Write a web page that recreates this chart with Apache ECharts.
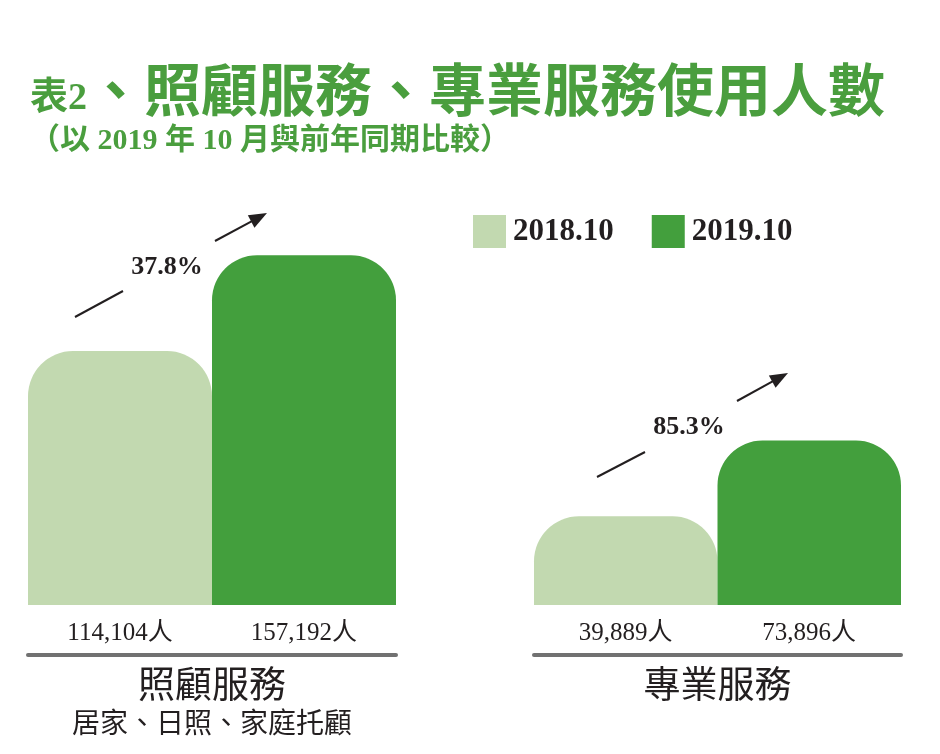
<!DOCTYPE html>
<html>
<head>
<meta charset="utf-8">
<title>表2、照顧服務、專業服務使用人數</title>
<script src="https://cdn.jsdelivr.net/npm/echarts@6/dist/echarts.min.js"></script>
<style>
  html, body { margin: 0; padding: 0; background: #fff; }
  #main { width: 940px; height: 754px; }
</style>
</head>
<body>
<div id="main"></div>
<script>
// data
const categories = ['照顧服務', '專業服務'];
const categoryNotes = ['居家、日照、家庭托顧', ''];
const seriesNames = ['2018.10', '2019.10'];
const values2018 = [114104, 39889];
const values2019 = [157192, 73896];

const GREEN = '#4a9e3e';
const INK = '#231f20';
const barColors = ['#c2d9b0', '#439f3d'];
const SERIF = '"Liberation Serif", "Noto Sans CJK TC", serif';

// annotation layout (pixels): lead line, arrow, label centre
const growthLayout = [
  { lead: [75, 317, 123, 291], arrow: [215, 241, 267, 213], text: [167, 267] },
  { lead: [597, 477, 645, 452], arrow: [737, 401, 788, 373], text: [689, 427] }
];

function fmt(n) {
  return String(n).replace(/\B(?=(\d{3})+(?!\d))/g, ',') + '人';
}

function arrowEls(x1, y1, x2, y2) {
  const dx = x2 - x1, dy = y2 - y1;
  const len = Math.hypot(dx, dy), ux = dx / len, uy = dy / len;
  const hl = 18, hw = 7;
  const bx = x2 - ux * hl, by = y2 - uy * hl;
  return [
    { type: 'line', silent: true,
      shape: { x1: x1, y1: y1, x2: bx + ux * 2, y2: by + uy * 2 },
      style: { stroke: INK, lineWidth: 2 } },
    { type: 'polygon', silent: true,
      shape: { points: [[x2, y2], [bx - uy * hw, by + ux * hw], [bx + uy * hw, by - ux * hw]] },
      style: { fill: INK } }
  ];
}

const chart = echarts.init(document.getElementById('main'));

const grids = [
  { left: 28, width: 368, top: 160, bottom: 149 },
  { left: 534, width: 367, top: 160, bottom: 149 }
];

const xAxes = categories.map(function (c, i) {
  return {
    type: 'category',
    gridIndex: i,
    data: [c],
    offset: 50,
    axisTick: { show: false },
    axisLine: { onZero: false, lineStyle: { color: '#717171', width: 4 } },
    axisLabel: {
      margin: 9,
      formatter: function () {
        return categoryNotes[i] ? '{a|' + c + '}\n{b|' + categoryNotes[i] + '}' : '{a|' + c + '}';
      },
      rich: {
        a: { fontFamily: '"Noto Sans CJK TC"', fontSize: 37, lineHeight: 40, color: INK },
        b: { fontFamily: '"Noto Sans CJK TC"', fontSize: 28, lineHeight: 36, color: INK }
      }
    }
  };
});

const yAxes = categories.map(function (c, i) {
  return { type: 'value', gridIndex: i, min: 0, max: 200000, show: false };
});

const series = [];
categories.forEach(function (c, g) {
  [values2018, values2019].forEach(function (vals, s) {
    series.push({
      type: 'bar',
      name: seriesNames[s],
      xAxisIndex: g,
      yAxisIndex: g,
      data: [vals[g]],
      barGap: '0%',
      barCategoryGap: '0%',
      silent: true,
      itemStyle: { color: barColors[s], borderRadius: [45, 45, 0, 0] },
      label: {
        show: true,
        position: 'bottom',
        distance: 16,
        formatter: function (p) { return fmt(p.value); },
        fontFamily: SERIF,
        fontSize: 25,
        color: INK
      }
    });
  });
});

// growth annotations
const graphics = [];
growthLayout.forEach(function (l, i) {
  const pct = ((values2019[i] / values2018[i] - 1) * 100).toFixed(1) + '%';
  graphics.push({ type: 'line', silent: true,
    shape: { x1: l.lead[0], y1: l.lead[1], x2: l.lead[2], y2: l.lead[3] },
    style: { stroke: INK, lineWidth: 2 } });
  arrowEls.apply(null, l.arrow).forEach(function (e) { graphics.push(e); });
  graphics.push({ type: 'text', silent: true, x: l.text[0], y: l.text[1],
    style: { text: pct, font: 'bold 26px "Liberation Serif"', fill: INK,
      align: 'center', verticalAlign: 'middle' } });
});

chart.setOption({
  animation: false,
  title: [
    {
      left: 30, top: 62, padding: 0,
      text: '{s|表2}{b|、照顧服務、專業服務使用人數}',
      textStyle: {
        rich: {
          s: { fontFamily: SERIF, fontWeight: 'bold', fontSize: 38, color: GREEN, verticalAlign: 'bottom', lineHeight: 56 },
          b: { fontFamily: '"Noto Sans CJK TC"', fontWeight: 'bold', fontSize: 57, color: GREEN, verticalAlign: 'bottom', lineHeight: 56 }
        }
      }
    },
    {
      left: 30, top: 126, padding: 0,
      text: '（以 2019 年 10 月與前年同期比較）',
      textStyle: { fontFamily: SERIF, fontWeight: 'bold', fontSize: 30, color: GREEN }
    }
  ],
  legend: {
    data: seriesNames,
    left: 473, top: 215, padding: 0,
    itemWidth: 33, itemHeight: 33, itemGap: 38,
    icon: 'rect',
    selectedMode: false,
    textStyle: { fontFamily: SERIF, fontWeight: 'bold', fontSize: 31, color: INK, padding: [0, 0, 0, 2] }
  },
  grid: grids,
  xAxis: xAxes,
  yAxis: yAxes,
  series: series,
  graphic: graphics
});
</script>
</body>
</html>
